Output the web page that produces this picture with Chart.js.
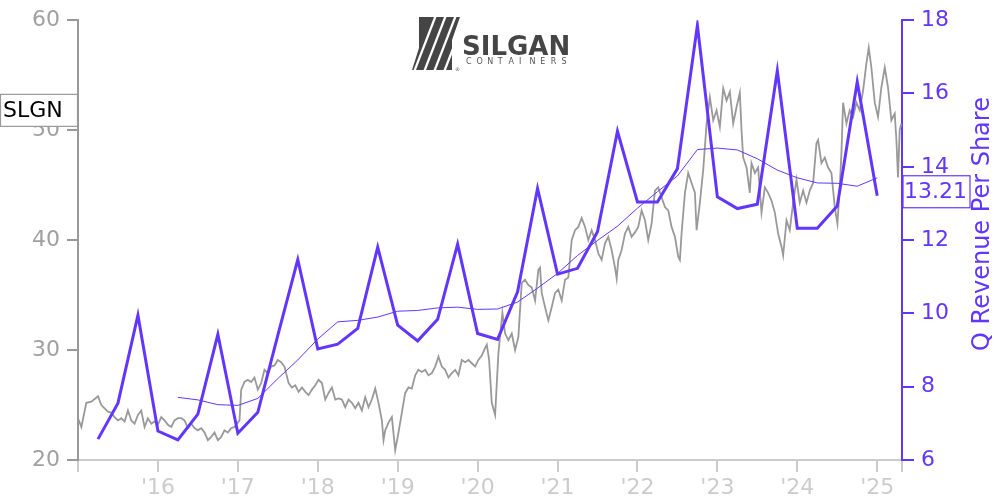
<!DOCTYPE html>
<html>
<head>
<meta charset="utf-8">
<script src="https://cdn.jsdelivr.net/npm/chart.js@4"></script>
<style>
  html, body { margin: 0; padding: 0; background: #fff; }
  #wrap { width: 1000px; height: 500px; }
</style>
</head>
<body>
<div id="wrap"><canvas id="chart" width="1000" height="500"></canvas></div>
<script>
// SLGN share price (decimal years)
const priceDates = [
  2015.000, 2015.042, 2015.104, 2015.167, 2015.250, 2015.292, 2015.333, 2015.375, 2015.417, 2015.458,
  2015.500, 2015.542, 2015.583, 2015.625, 2015.667, 2015.708, 2015.750, 2015.792, 2015.833, 2015.875,
  2015.917, 2015.958, 2016.000, 2016.042, 2016.083, 2016.125, 2016.167, 2016.208, 2016.250, 2016.292,
  2016.333, 2016.375, 2016.417, 2016.458, 2016.500, 2016.542, 2016.583, 2016.625, 2016.667, 2016.708,
  2016.750, 2016.792, 2016.833, 2016.875, 2016.917, 2016.958, 2017.000, 2017.021, 2017.042, 2017.083,
  2017.125, 2017.167, 2017.208, 2017.250, 2017.292, 2017.333, 2017.375, 2017.417, 2017.458, 2017.500,
  2017.542, 2017.583, 2017.635, 2017.677, 2017.719, 2017.760, 2017.802, 2017.844, 2017.885, 2017.927,
  2017.969, 2018.010, 2018.052, 2018.094, 2018.135, 2018.177, 2018.219, 2018.260, 2018.302, 2018.344,
  2018.385, 2018.427, 2018.469, 2018.510, 2018.552, 2018.594, 2018.635, 2018.677, 2018.719, 2018.760,
  2018.802, 2018.823, 2018.844, 2018.885, 2018.927, 2018.969, 2019.010, 2019.052, 2019.094, 2019.135,
  2019.177, 2019.219, 2019.260, 2019.302, 2019.344, 2019.385, 2019.427, 2019.469, 2019.510, 2019.552,
  2019.594, 2019.635, 2019.677, 2019.719, 2019.760, 2019.802, 2019.844, 2019.885, 2019.927, 2019.969,
  2020.010, 2020.052, 2020.094, 2020.115, 2020.144, 2020.177, 2020.219, 2020.260, 2020.310, 2020.344,
  2020.385, 2020.427, 2020.469, 2020.510, 2020.552, 2020.594, 2020.635, 2020.677, 2020.719, 2020.760,
  2020.781, 2020.802, 2020.844, 2020.885, 2020.927, 2020.969, 2021.010, 2021.052, 2021.094, 2021.135,
  2021.177, 2021.219, 2021.260, 2021.302, 2021.344, 2021.385, 2021.427, 2021.469, 2021.510, 2021.552,
  2021.594, 2021.635, 2021.677, 2021.719, 2021.740, 2021.760, 2021.802, 2021.844, 2021.885, 2021.927,
  2021.969, 2022.010, 2022.052, 2022.094, 2022.135, 2022.177, 2022.219, 2022.260, 2022.302, 2022.344,
  2022.385, 2022.427, 2022.469, 2022.510, 2022.531, 2022.552, 2022.594, 2022.635, 2022.677, 2022.719,
  2022.740, 2022.781, 2022.823, 2022.865, 2022.906, 2022.948, 2022.990, 2023.031, 2023.073, 2023.115,
  2023.156, 2023.198, 2023.240, 2023.281, 2023.302, 2023.323, 2023.365, 2023.406, 2023.427, 2023.469,
  2023.510, 2023.552, 2023.594, 2023.635, 2023.677, 2023.719, 2023.760, 2023.802, 2023.823, 2023.865,
  2023.906, 2023.948, 2023.990, 2024.031, 2024.073, 2024.115, 2024.156, 2024.198, 2024.240, 2024.260,
  2024.302, 2024.344, 2024.385, 2024.427, 2024.469, 2024.502, 2024.531, 2024.552, 2024.573, 2024.615,
  2024.656, 2024.698, 2024.740, 2024.781, 2024.823, 2024.865, 2024.894, 2024.927, 2024.969, 2025.010,
  2025.052, 2025.094, 2025.135, 2025.177, 2025.219, 2025.240, 2025.260, 2025.281, 2025.302
];
const priceValues = [
  23.8, 23.0, 25.2, 25.3, 25.8, 25.0, 24.7, 24.4, 24.3, 23.9,
  23.6, 23.8, 23.5, 24.5, 23.6, 23.3, 24.1, 24.5, 23.0, 23.8,
  23.3, 23.5, 23.2, 23.9, 23.6, 23.2, 23.0, 23.6, 23.8, 23.8,
  23.6, 22.9, 23.3, 22.9, 22.7, 22.9, 22.5, 21.8, 22.1, 22.5,
  21.8, 22.1, 22.7, 22.5, 22.9, 23.0, 23.4, 23.6, 26.4, 27.1,
  27.3, 27.1, 27.5, 26.4, 27.0, 28.2, 27.9, 28.5, 28.6, 29.1,
  28.9, 28.5, 27.0, 26.6, 26.8, 26.2, 26.6, 26.2, 25.9, 26.4,
  26.8, 27.3, 27.0, 25.5, 26.1, 26.6, 25.5, 25.6, 25.5, 24.8,
  25.5, 25.2, 24.7, 25.2, 24.5, 25.7, 24.8, 25.5, 26.5, 25.2,
  23.6, 21.8, 22.7, 23.4, 23.9, 20.9, 22.5, 24.3, 26.1, 26.6,
  26.5, 27.7, 28.2, 28.0, 28.2, 27.7, 27.9, 28.5, 29.4, 28.5,
  28.2, 27.5, 27.9, 28.2, 27.7, 29.1, 28.9, 29.1, 28.8, 28.5,
  29.1, 29.5, 30.2, 30.5, 29.1, 25.2, 24.1, 29.7, 33.4, 31.5,
  30.9, 31.5, 30.0, 31.2, 36.1, 36.4, 35.9, 35.7, 34.5, 37.3,
  37.5, 35.2, 33.9, 32.7, 33.9, 35.2, 35.5, 34.5, 36.4, 36.6,
  40.0, 40.9, 41.2, 42.0, 41.2, 40.0, 40.9, 40.0, 38.8, 38.2,
  39.7, 40.3, 39.1, 37.5, 36.5, 38.2, 39.1, 40.6, 41.2, 40.3,
  40.7, 41.2, 42.7, 41.8, 40.0, 41.5, 44.5, 44.8, 43.9, 43.0,
  42.7, 41.2, 40.3, 38.5, 38.2, 40.6, 44.3, 46.1, 45.2, 44.3,
  40.9, 43.4, 46.4, 50.6, 53.0, 50.9, 51.8, 50.3, 53.8, 52.7,
  53.5, 50.6, 52.1, 53.4, 50.0, 47.5, 46.6, 44.3, 47.0, 46.1,
  46.6, 42.5, 44.8, 44.3, 43.6, 42.5, 40.6, 39.4, 38.6, 41.8,
  40.9, 43.4, 45.5, 43.4, 44.5, 43.4, 44.5, 45.2, 48.8, 49.1,
  47.0, 47.5, 46.6, 46.1, 43.0, 41.5, 44.8, 47.9, 52.5, 50.6,
  51.8, 51.2, 52.5, 51.8, 53.6, 56.1, 57.5, 55.7, 52.5, 51.2,
  53.9, 55.7, 53.9, 50.9, 51.5, 49.1, 45.7, 50.0, 50.6
];

// quarterly revenue per share
const revDates = [
  2015.25, 2015.5, 2015.75, 2016.0, 2016.25, 2016.5, 2016.75, 2017.0, 2017.25, 2017.5,
  2017.75, 2018.0, 2018.25, 2018.5, 2018.75, 2019.0, 2019.25, 2019.5, 2019.75, 2020.0,
  2020.25, 2020.5, 2020.75, 2021.0, 2021.25, 2021.5, 2021.75, 2022.0, 2022.25, 2022.5,
  2022.75, 2023.0, 2023.25, 2023.5, 2023.75, 2024.0, 2024.25, 2024.5, 2024.75, 2025.0
];
const revValues = [
  6.57, 7.55, 9.95, 6.79, 6.55, 7.25, 9.43, 6.73, 7.30, 9.40,
  11.47, 9.03, 9.16, 9.59, 11.81, 9.68, 9.25, 9.84, 11.89, 9.45,
  9.29, 10.59, 13.41, 11.07, 11.23, 12.23, 14.97, 13.04, 13.04, 13.95,
  17.86, 13.18, 12.86, 12.98, 16.62, 12.32, 12.32, 12.93, 16.32, 13.21
];

// thin trailing 4-quarter average line
const maDates = revDates.slice(4);
const maValues = [
  7.71, 7.64, 7.51, 7.49, 7.68, 8.22, 8.73, 9.30, 9.77, 9.81,
  9.90, 10.06, 10.08, 10.15, 10.17, 10.11, 10.12, 10.31, 10.69, 11.09,
  11.58, 11.99, 12.38, 12.87, 13.32, 13.75, 14.47, 14.51, 14.46, 14.22,
  13.91, 13.70, 13.56, 13.55, 13.47, 13.70
];

const yearTicks = [2016, 2017, 2018, 2019, 2020, 2021, 2022, 2023, 2024, 2025];
const yearLabels = ["'16", "'17", "'18", "'19", "'20", "'21", "'22", "'23", "'24", "'25"];
const xMin = 2015, xMax = 2025.31;

const ticker = 'SLGN';
const tickerLabelAt = 51.8;
const lastRevLabel = '13.21';

const purple = '#6236ff';
const gray = '#999';
const font = 'DejaVu Sans';

function pts(xs, ys) {
  return xs.map((x, i) => ({ x: x, y: ys[i] }));
}

const overlay = {
  id: 'overlay',
  afterDraw(chart) {
    const ctx = chart.ctx;
    const y = chart.scales.y, y2 = chart.scales.y2;
    ctx.save();

    // logo emblem
    ctx.fillStyle = '#454545';
    ctx.beginPath();
    ctx.moveTo(419, 17); ctx.lineTo(460, 17); ctx.lineTo(452, 40);
    ctx.lineTo(452, 70); ctx.lineTo(412, 70); ctx.lineTo(419, 48);
    ctx.closePath();
    ctx.fill();
    ctx.strokeStyle = '#fff';
    ctx.lineWidth = 2.2;
    [414, 424, 434, 444].forEach(x0 => {
      ctx.beginPath();
      ctx.moveTo(x0, 72);
      ctx.lineTo(x0 + 22, 15);
      ctx.stroke();
    });
    ctx.font = 'bold 26px "' + font + '"';
    ctx.fillStyle = '#454545';
    ctx.textBaseline = 'alphabetic';
    ctx.textAlign = 'left';
    ctx.fillText('SILGAN', 462, 55);
    ctx.font = '8px "' + font + '"';
    ctx.fillStyle = '#555';
    'CONTAINERS'.split('').forEach((c, i) => ctx.fillText(c, 466 + i * 10.6, 64));
    ctx.font = '5px "' + font + '"';
    ctx.fillText('®', 455, 71);

    // ticker box on the left
    const ty = y.getPixelForValue(tickerLabelAt);
    ctx.fillStyle = '#fff';
    ctx.fillRect(0.5, ty - 16, 77, 32);
    ctx.strokeStyle = gray;
    ctx.lineWidth = 1.2;
    ctx.strokeRect(0.5, ty - 16, 77, 32);
    ctx.fillStyle = '#000';
    ctx.font = '22px "' + font + '"';
    ctx.textBaseline = 'middle';
    ctx.fillText(ticker, 3, ty + 1);

    // last value box on the right
    const ry = y2.getPixelForValue(revValues[revValues.length - 1]) - 4;
    ctx.fillStyle = '#fff';
    ctx.fillRect(903, ry - 16, 67, 32);
    ctx.strokeStyle = purple;
    ctx.strokeRect(903, ry - 16, 67, 32);
    ctx.fillStyle = purple;
    ctx.fillText(lastRevLabel, 904, ry + 1);

    // right axis title, reading upward
    ctx.translate(983, 224);
    ctx.rotate(-Math.PI / 2);
    ctx.textAlign = 'center';
    ctx.font = '24px "' + font + '"';
    ctx.fillText('Q Revenue Per Share', 0, 0);
    ctx.restore();
  }
};

new Chart(document.getElementById('chart').getContext('2d'), {
  type: 'line',
  data: {
    datasets: [
      {
        label: 'Q Revenue Per Share',
        data: pts(revDates, revValues),
        yAxisID: 'y2',
        borderColor: purple,
        borderWidth: 3,
        pointRadius: 0,
        order: 0
      },
      {
        label: '4Q average',
        data: pts(maDates, maValues),
        yAxisID: 'y2',
        borderColor: purple,
        borderWidth: 1,
        pointRadius: 0,
        order: 1
      },
      {
        label: 'SLGN',
        data: pts(priceDates, priceValues),
        yAxisID: 'y',
        borderColor: gray,
        borderWidth: 1.8,
        pointRadius: 0,
        order: 2
      }
    ]
  },
  options: {
    responsive: false,
    animation: false,
    layout: { padding: { top: 20 } },
    plugins: { legend: { display: false }, tooltip: { enabled: false } },
    scales: {
      x: {
        type: 'linear',
        min: xMin,
        max: xMax,
        afterFit(s) { s.height = 40; },
        afterBuildTicks(s) {
          s.ticks = [xMin].concat(yearTicks, [xMax]).map(v => ({ value: v }));
        },
        ticks: {
          autoSkip: false,
          maxRotation: 0,
          color: '#ccc',
          padding: 3,
          font: { family: font, size: 22 },
          callback(v) {
            const i = yearTicks.indexOf(v);
            return i < 0 ? '' : yearLabels[i];
          }
        },
        grid: { drawOnChartArea: false, tickLength: 12, color: '#ccc', lineWidth: 2 },
        border: { color: '#ccc', width: 2 }
      },
      y: {
        position: 'left',
        min: 20,
        max: 60,
        afterFit(s) { s.width = 78; },
        ticks: { stepSize: 10, color: '#a0a0a0', padding: 7, font: { family: font, size: 22 } },
        grid: { drawOnChartArea: false, tickLength: 11, color: gray, lineWidth: 2 },
        border: { color: gray, width: 2 }
      },
      y2: {
        position: 'right',
        min: 6,
        max: 18,
        afterFit(s) { s.width = 98; },
        ticks: { stepSize: 2, color: purple, padding: 7, font: { family: font, size: 22 } },
        grid: { drawOnChartArea: false, tickLength: 12, color: purple, lineWidth: 2 },
        border: { color: purple, width: 2 }
      }
    }
  },
  plugins: [overlay]
});
</script>
</body>
</html>
